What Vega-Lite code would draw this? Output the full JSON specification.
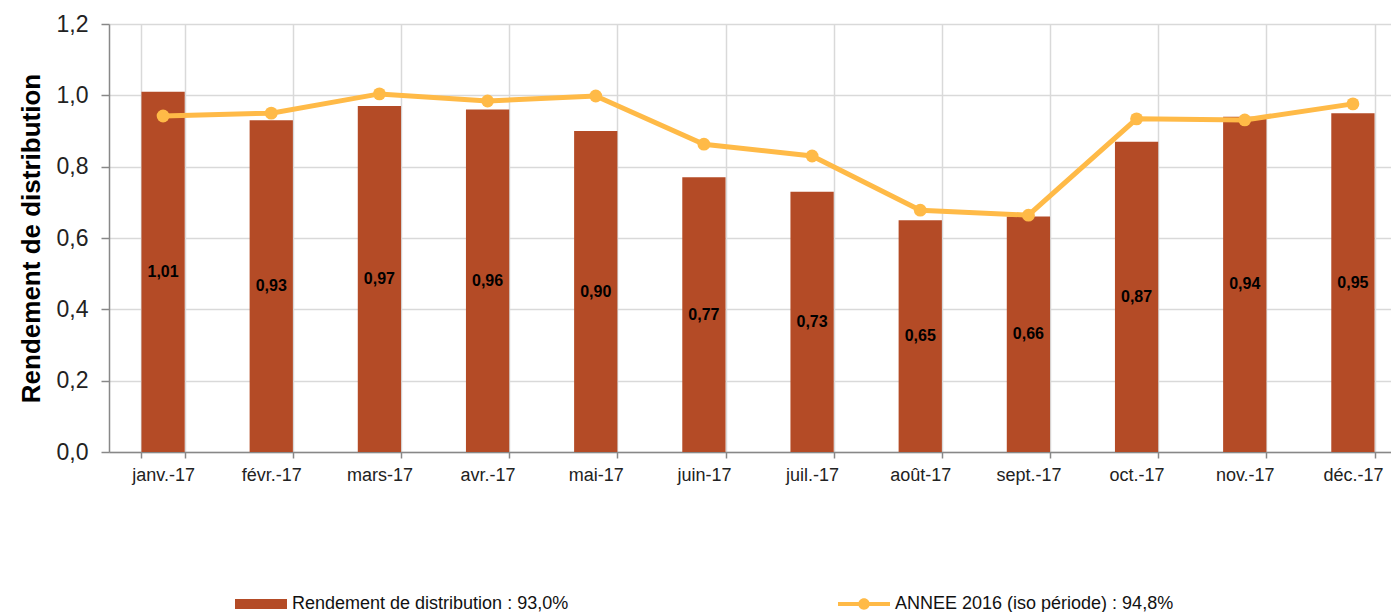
{
  "$schema": "https://vega.github.io/schema/vega-lite/v6.json",
  "width": 1282,
  "height": 428,
  "autosize": {"type": "none"},
  "padding": {"left": 109, "top": 24, "right": 0, "bottom": 160},
  "config": {
    "font": "Liberation Sans",
    "view": {"stroke": null},
    "locale": {"number": {"decimal": ",", "thousands": "\u00a0", "grouping": [3], "currency": ["", " €"]}}
  },
  "data": {
    "values": [
      {"mois": "janv.-17", "bar": 1.01, "line": 0.942},
      {"mois": "févr.-17", "bar": 0.93, "line": 0.950},
      {"mois": "mars-17", "bar": 0.97, "line": 1.004},
      {"mois": "avr.-17", "bar": 0.96, "line": 0.984},
      {"mois": "mai-17", "bar": 0.90, "line": 0.998},
      {"mois": "juin-17", "bar": 0.77, "line": 0.863},
      {"mois": "juil.-17", "bar": 0.73, "line": 0.830},
      {"mois": "août-17", "bar": 0.65, "line": 0.678},
      {"mois": "sept.-17", "bar": 0.66, "line": 0.664},
      {"mois": "oct.-17", "bar": 0.87, "line": 0.934},
      {"mois": "nov.-17", "bar": 0.94, "line": 0.931},
      {"mois": "déc.-17", "bar": 0.95, "line": 0.976}
    ]
  },
  "encoding": {
    "x": {
      "field": "mois", "type": "nominal", "sort": null,
      "scale": {"paddingInner": 0.6, "paddingOuter": 0.3, "range": [0, 1298]},
      "axis": {
        "title": null, "labelAngle": 0, "labelFontSize": 18, "labelColor": "#222",
        "domainColor": "#888", "domainWidth": 1.5, "tickColor": "#888", "tickWidth": 1.5, "tickSize": 6,
        "labelPadding": 8, "tickBand": "extent", "grid": true, "gridColor": "#d9d9d9", "gridWidth": 1.5
      }
    }
  },
  "layer": [
    {
      "mark": {"type": "bar"},
      "encoding": {
        "y": {
          "field": "bar", "type": "quantitative",
          "scale": {"domain": [0, 1.2], "nice": false},
          "axis": {
            "values": [0, 0.2, 0.4, 0.6, 0.8, 1.0, 1.2], "format": ".1f",
            "labelFontSize": 23, "labelColor": "#222", "tickSize": 8, "labelPadding": 13,
            "domainColor": "#888", "domainWidth": 1.5, "tickColor": "#888", "tickWidth": 1.5,
            "gridColor": "#d9d9d9", "gridWidth": 1.5,
            "title": "Rendement de distribution", "titleFontSize": 26, "titleFontWeight": "bold",
            "titleColor": "#000", "titlePadding": 12
          }
        },
        "color": {
          "datum": "Rendement de distribution : 93,0%",
          "type": "nominal",
          "scale": {
            "domain": ["Rendement de distribution : 93,0%", "ANNEE 2016 (iso période) : 94,8%"],
            "range": ["#B44B26", "#FFBA47"]
          },
          "legend": {
            "title": null, "orient": "none", "direction": "horizontal", "columns": 2,
            "legendX": 126, "legendY": 554, "padding": 0,
            "labelFontSize": 18, "labelColor": "#111", "labelOffset": 5, "labelLimit": 600,
            "symbolSize": 2704, "columnPadding": 269,
            "encode": {
              "symbols": {
                "update": {
                  "shape": {"signal": "datum.index === 0 ? 'M-1,-0.19L1,-0.19L1,0.19L-1,0.19Z' : 'M-1,-0.08L1,-0.08L1,0.08L-1,0.08Z M-0.22,0A0.22,0.22,0,1,1,0.22,0A0.22,0.22,0,1,1,-0.22,0Z'"},
                  "fill": {"signal": "datum.index === 0 ? '#B44B26' : '#FFBA47'"},
                  "stroke": {"value": "transparent"},
                  "strokeWidth": {"value": 0},
                  "opacity": {"value": 1}
                }
              }
            }
          }
        }
      }
    },
    {
      "mark": {"type": "line", "strokeWidth": 5, "point": {"size": 165, "filled": true, "opacity": 1}},
      "encoding": {
        "y": {"field": "line", "type": "quantitative", "scale": {"domain": [0, 1.2], "nice": false}, "axis": null},
        "color": {"datum": "ANNEE 2016 (iso période) : 94,8%", "type": "nominal"}
      }
    },
    {
      "mark": {"type": "text", "fontWeight": "bold", "fontSize": 16, "color": "#000"},
      "encoding": {
        "y": {"field": "bar", "type": "quantitative", "scale": {"domain": [0, 2.4], "nice": false}, "axis": null},
        "text": {"field": "bar", "type": "quantitative", "format": ".2f"}
      }
    }
  ],
  "resolve": {"scale": {"y": "independent"}}
}
